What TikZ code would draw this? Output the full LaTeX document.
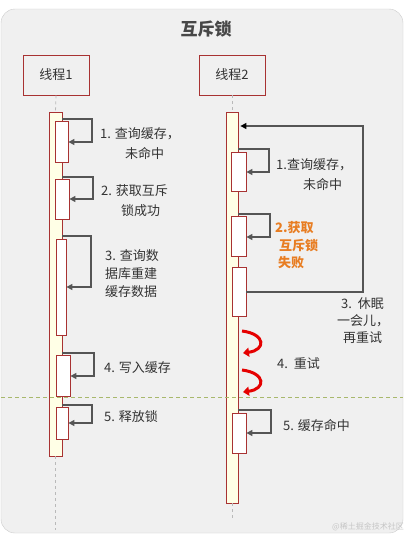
\documentclass[tikz,border=0pt]{standalone}
\usepackage{fontspec}
\setmainfont{Noto Sans CJK SC}
\usetikzlibrary{arrows.meta}
\definecolor{bgc}{HTML}{F0F0F0}
\definecolor{redb}{HTML}{A83232}
\definecolor{barfill}{HTML}{FFFFE6}
\definecolor{arrc}{HTML}{555555}
\definecolor{txt}{HTML}{333333}
\definecolor{orng}{HTML}{E87D22}
\definecolor{sep}{HTML}{A8B86C}
\tikzset{
  thread/.style={draw=redb, line width=0.9pt, fill=bgc, minimum width=66, minimum height=40, inner sep=0, font=\fontsize{13}{15}\selectfont, text=txt},
  actbar/.style={draw=redb, line width=0.8pt, fill=barfill, inner sep=0},
  subbox/.style={draw=redb, line width=0.8pt, fill=white, inner sep=0},
  selfarr/.style={draw=arrc, line width=1.3pt, -{Triangle[length=6pt,width=6pt]}},
  loopback/.style={draw=arrc, line width=1.3pt, -{Triangle[length=6pt,width=6pt,color=black]}},
  lifeline/.style={draw=gray!55, dashed, line width=0.8pt},
  lbl/.style={anchor=west, inner sep=0, font=\fontsize{13}{15}\selectfont, text=txt},
  olbl/.style={lbl, text=orng, font=\bfseries\fontsize{13}{15}\selectfont},
  retry/.style={draw=red!90!black, line width=3pt, -{Triangle[length=6pt,width=9pt]}}
}
\begin{document}
\begin{tikzpicture}[x=1pt,y=-1pt]
\useasboundingbox (0,0) rectangle (407,536);
\fill[white] (0,0) rectangle (407,536);
\draw[fill=bgc, draw=gray!40, rounded corners=14pt] (1,9) rectangle (403,533);
\node[font=\bfseries\fontsize{17}{19}\selectfont, text=txt!90] (title) at (206,29) {互斥锁};

% threads
\node[thread] (t1) at (56,75) {线程1};
\node[thread] (t2) at (232,75) {线程2};

% activation bars
\node[actbar, minimum width=13, minimum height=344] (bar1) at (55.5,284) {};
\node[actbar, minimum width=12, minimum height=391] (bar2) at (232,307.5) {};

% lifelines
\coordinate (end1) at (55.5,530);
\coordinate (end2) at (232,518);
\draw[lifeline] (t1.south) -- (bar1.north);
\draw[lifeline] (bar1.south) -- (end1);
\draw[lifeline] (t2.south) -- (bar2.north);
\draw[lifeline] (bar2.south) -- (end2);

% separator
\draw[draw=sep, dashed, dash pattern=on 4pt off 3pt, line width=0.8pt] (1,397) -- (403,397);

% thread 1 sub boxes
\node[subbox, minimum width=13, minimum height=41] (a1) at (61.5,141.5) {};
\node[subbox, minimum width=14, minimum height=40] (a2) at (62,199) {};
\node[subbox, minimum width=10, minimum height=96] (a3) at (61,287) {};
\node[subbox, minimum width=14, minimum height=41] (a4) at (63,375.5) {};
\node[subbox, minimum width=12, minimum height=32] (a5) at (62,423) {};

% thread 2 sub boxes
\node[subbox, minimum width=15, minimum height=39] (b1) at (238.5,171.5) {};
\node[subbox, minimum width=15, minimum height=40] (b2) at (238.5,236) {};
\node[subbox, minimum width=14, minimum height=49] (b3) at (239,291.5) {};
\node[subbox, minimum width=14, minimum height=40] (b5) at (239,433) {};

% thread 1 self arrows
\draw[selfarr] (bar1.east |- 0,119) -- (92,119) -- (92,142) -- (a1.east |- 0,142);
\draw[selfarr] (bar1.east |- 0,177) -- (93,177) -- (93,199) -- (a2.east |- 0,199);
\draw[selfarr] (bar1.east |- 0,236) -- (91,236) -- (91,287) -- (a3.east |- 0,287);
\draw[selfarr] (bar1.east |- 0,353) -- (94,353) -- (94,376) -- (a4.east |- 0,376);
\draw[selfarr] (bar1.east |- 0,405) -- (92,405) -- (92,423) -- (a5.east |- 0,423);

% thread 2 self arrows
\draw[selfarr] (bar2.east |- 0,149) -- (269,149) -- (269,172) -- (b1.east |- 0,172);
\draw[selfarr] (bar2.east |- 0,214) -- (270,214) -- (270,237) -- (b2.east |- 0,237);
\draw[loopback] (b3.east |- 0,292) -- (363,292) -- (363,126) -- ([xshift=2pt]bar2.east |- 0,126);
\draw[selfarr] (bar2.east |- 0,410) -- (271,410) -- (271,433) -- (b5.east |- 0,433);

% retry curved arrows
\coordinate (r1s) at (242,331);
\coordinate (r1e) at (243,353);
\coordinate (r2s) at (242,370);
\coordinate (r2e) at (243,392);
\draw[retry] (r1s) .. controls (266,334) and (266,350) .. (r1e);
\draw[retry] (r2s) .. controls (266,373) and (266,389) .. (r2e);

% thread 1 labels
\node[lbl] (l1a) at (100,134) {1. 查询缓存，};
\node[lbl] (l1b) at (125,153) {未命中};
\node[lbl] (l2a) at (101,191) {2. 获取互斥};
\node[lbl] (l2b) at (121,211) {锁成功};
\node[lbl] (l3a) at (105,256) {3. 查询数};
\node[lbl] (l3b) at (105,274) {据库重建};
\node[lbl] (l3c) at (105,292) {缓存数据};
\node[lbl] (l4) at (104,368) {4. 写入缓存};
\node[lbl] (l5) at (104,417) {5. 释放锁};

% thread 2 labels
\node[lbl] (m1a) at (276,165) {1.查询缓存，};
\node[lbl] (m1b) at (303,184) {未命中};
\node[olbl] (m2a) at (275,228) {2.获取};
\node[olbl] (m2b) at (279,246) {互斥锁};
\node[olbl] (m2c) at (278,263) {失败};
\node[lbl] (m3a) at (341,304) {3.\ \ 休眠};
\node[lbl] (m3b) at (337,321) {一会儿，};
\node[lbl] (m3c) at (343,338) {再重试};
\node[lbl] (m4) at (277,364) {4.\ \ 重试};
\node[lbl] (m5) at (283,425) {5. 缓存命中};

% watermark
\node[anchor=east, inner sep=0, font=\fontsize{8}{9}\selectfont, text=gray!45] (wm) at (404,527) {@稀土掘金技术社区};
\end{tikzpicture}
\end{document}
